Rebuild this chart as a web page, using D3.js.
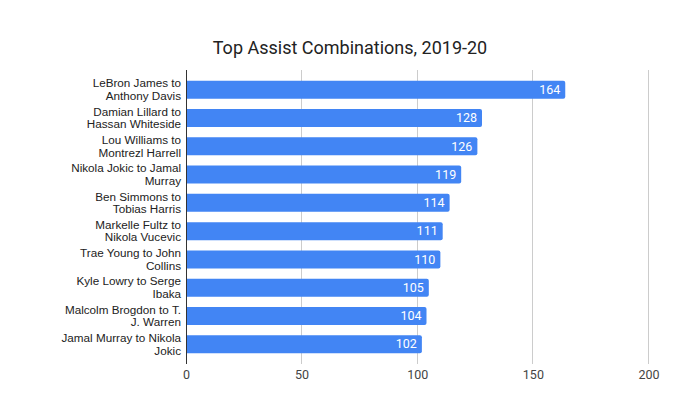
<!DOCTYPE html>
<html><head><meta charset="utf-8">
<script src="https://cdn.jsdelivr.net/npm/d3@7"></script>
<style>body{margin:0;background:#fff;} svg{display:block;}</style>
</head><body>
<script>
const categories = [
  "LeBron James to|Anthony Davis",
  "Damian Lillard to|Hassan Whiteside",
  "Lou Williams to|Montrezl Harrell",
  "Nikola Jokic to Jamal|Murray",
  "Ben Simmons to|Tobias Harris",
  "Markelle Fultz to|Nikola Vucevic",
  "Trae Young to John|Collins",
  "Kyle Lowry to Serge|Ibaka",
  "Malcolm Brogdon to T.|J. Warren",
  "Jamal Murray to Nikola|Jokic"
];
const values = [164, 128, 126, 119, 114, 111, 110, 105, 104, 102];
const xTicks = [0, 50, 100, 150, 200];
const title = "Top Assist Combinations, 2019-20";

const W = 700, H = 399;
const svg = d3.select("body").append("svg").attr("width", W).attr("height", H);

const x = d3.scaleLinear().domain([0, 200]).range([186, 648.5]);
const y = d3.scaleBand().domain(categories).range([70, 364]).paddingInner(0.363).paddingOuter(0.383);

svg.append("text").attr("x", 350).attr("y", 53.5).attr("text-anchor", "middle")
  .attr("font-family", "Roboto").attr("font-size", 18).attr("fill", "#222").text(title);

// gridlines
svg.append("g").selectAll("line").data(xTicks.filter(d => d > 0)).join("line")
  .attr("x1", d => x(d)).attr("x2", d => x(d)).attr("y1", 70).attr("y2", 364)
  .attr("stroke", "#ccc").attr("stroke-width", 1).attr("shape-rendering", "crispEdges");

// bars
svg.append("g").selectAll("path").data(values).join("path")
  .attr("fill", "#4285f4")
  .attr("d", (d, i) => {
    const x0 = x(0), x1 = x(d), y0 = y(categories[i]), h = y.bandwidth(), r = 2;
    return `M${x0},${y0}H${x1 - r}Q${x1},${y0} ${x1},${y0 + r}V${y0 + h - r}Q${x1},${y0 + h} ${x1 - r},${y0 + h}H${x0}Z`;
  });

// value labels
svg.append("g").selectAll("text").data(values).join("text")
  .attr("x", d => x(d) - 5).attr("y", (d, i) => y(categories[i]) + y.bandwidth() / 2 + 4.3)
  .attr("text-anchor", "end").attr("font-family", "Roboto").attr("font-size", 12.5)
  .attr("fill", "#fff").text(d => d);

// zero axis line
svg.append("line").attr("x1", x(0)).attr("x2", x(0)).attr("y1", 70).attr("y2", 364)
  .attr("stroke", "#333").attr("stroke-width", 1).attr("shape-rendering", "crispEdges");

// x tick labels
const xAxis = d3.axisBottom(x).tickValues(xTicks).tickSize(0).tickPadding(0);
const gx = svg.append("g").attr("transform", "translate(0,370)").call(xAxis);
gx.select(".domain").remove();
gx.selectAll("text").attr("font-family", "Roboto").attr("font-size", 12.5).attr("fill", "#444").attr("dy", "0.72em");

// category labels (two lines each)
const lab = svg.append("g");
categories.forEach(c => {
  const lines = c.split("|");
  const t = lab.append("text").attr("text-anchor", "end").attr("font-family", "Liberation Sans, Arial")
    .attr("font-size", 11.7).attr("fill", "#222");
  const cy = y(c) + y.bandwidth() / 2;
  const lh = 12.7;
  lines.forEach((l, k) => {
    t.append("tspan").attr("x", 181).attr("y", cy + (k - (lines.length - 1) / 2) * lh + 4).text(l);
  });
});
</script>
</body></html>
